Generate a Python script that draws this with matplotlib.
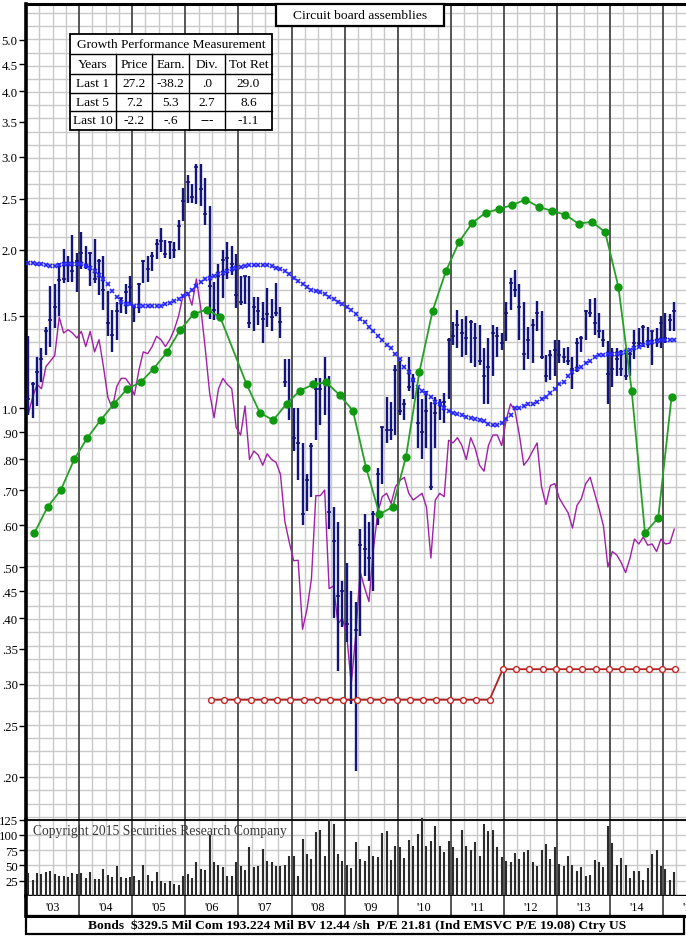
"""
SRC style long-term chart: Circuit board assemblies, monthly price range bars,
moving average, relative strength, earnings, dividends and monthly volume.
"""
import matplotlib
matplotlib.use("Agg")
import matplotlib.pyplot as plt
import numpy as np
from matplotlib.lines import Line2D
from matplotlib.patches import Rectangle
from matplotlib.ticker import NullLocator

plt.rcParams["font.family"] = ["Liberation Serif", "DejaVu Serif"]

W, H = 686, 937

# ---- data (monthly from Jan 2003) -------------------------------------------
price_high = [1.37, 1.12, 1.25, 1.30, 1.43, 1.71, 1.72, 1.89, 2.01, 1.95, 2.13, 1.97,
              2.16, 2.03, 1.98, 2.10, 1.92, 1.95, 1.67, 1.54, 1.59, 1.62, 1.72, 1.78,
              1.57, 1.73, 1.91, 1.95, 1.98, 2.10, 2.20, 2.09, 2.08, 2.07, 2.28, 2.62,
              2.77, 2.66, 2.91, 2.91, 2.73, 2.42, 1.74, 1.88, 2.00, 2.07, 2.03, 1.96,
              1.78, 1.78, 1.78, 1.63, 1.63, 1.59, 1.69, 1.61, 1.73, 1.56, 1.24, 1.24,
              1.00, 1.00, 0.86, 0.75, 0.86, 1.14, 1.14, 1.25, 1.15, 0.65, 0.61, 0.47,
              0.51, 0.45, 0.43, 0.59, 0.63, 0.61, 0.64, 0.77, 0.92, 1.05, 1.03, 1.21,
              1.23, 1.04, 1.25, 1.16, 1.10, 1.04, 1.08, 1.03, 1.05, 1.04, 1.07, 1.36,
              1.46, 1.54, 1.48, 1.50, 1.47, 1.45, 1.44, 1.30, 1.36, 1.44, 1.43, 1.39,
              1.59, 1.77, 1.83, 1.72, 1.59, 1.43, 1.48, 1.60, 1.53, 1.26, 1.29, 1.35,
              1.35, 1.30, 1.31, 1.25, 1.36, 1.37, 1.54, 1.61, 1.62, 1.52, 1.41, 1.34,
              1.30, 1.30, 1.29, 1.30, 1.28, 1.41, 1.42, 1.44, 1.43, 1.40, 1.42, 1.50,
              1.52, 1.51, 1.59]
price_low = [0.97, 0.96, 1.01, 1.12, 1.26, 1.31, 1.42, 1.50, 1.73, 1.74, 1.74, 1.66,
             1.84, 1.84, 1.71, 1.73, 1.64, 1.54, 1.37, 1.28, 1.35, 1.52, 1.51, 1.58,
             1.46, 1.52, 1.73, 1.74, 1.82, 1.92, 1.98, 1.93, 1.92, 1.93, 2.00, 2.27,
             2.45, 2.45, 2.44, 2.42, 2.23, 1.48, 1.47, 1.48, 1.62, 1.76, 1.79, 1.55,
             1.57, 1.58, 1.42, 1.40, 1.44, 1.33, 1.43, 1.40, 1.50, 1.36, 1.10, 0.95,
             0.83, 0.73, 0.60, 0.64, 0.68, 0.87, 0.93, 0.97, 0.59, 0.40, 0.317, 0.384,
             0.36, 0.275, 0.205, 0.37, 0.48, 0.47, 0.45, 0.60, 0.72, 0.86, 0.87, 0.89,
             0.97, 0.95, 1.08, 1.04, 0.84, 0.80, 0.84, 0.70, 0.84, 0.95, 0.94, 1.04,
             1.32, 1.30, 1.25, 1.26, 1.22, 1.20, 1.21, 1.02, 1.02, 1.15, 1.25, 1.29,
             1.34, 1.54, 1.63, 1.35, 1.18, 1.24, 1.22, 1.40, 1.24, 1.12, 1.13, 1.15,
             1.22, 1.22, 1.21, 1.09, 1.17, 1.28, 1.35, 1.49, 1.38, 1.36, 1.31, 1.02,
             1.10, 1.15, 1.15, 1.13, 1.15, 1.24, 1.30, 1.31, 1.30, 1.21, 1.31, 1.30,
             1.33, 1.40, 1.40]
price_close = [1.04, 1.11, 1.17, 1.24, 1.40, 1.47, 1.56, 1.75, 1.76, 1.87, 1.82, 1.90,
               1.97, 1.86, 1.97, 1.76, 1.90, 1.68, 1.45, 1.38, 1.53, 1.62, 1.66, 1.70,
               1.56, 1.72, 1.90, 1.84, 1.95, 2.05, 2.08, 1.96, 2.07, 2.00, 2.22, 2.47,
               2.69, 2.52, 2.87, 2.61, 2.34, 1.71, 1.54, 1.78, 1.91, 1.93, 1.88, 1.64,
               1.59, 1.78, 1.45, 1.56, 1.53, 1.48, 1.51, 1.49, 1.52, 1.46, 1.12, 1.02,
               0.88, 0.86, 0.63, 0.73, 0.85, 1.09, 1.09, 1.12, 0.635, 0.56, 0.44, 0.45,
               0.39, 0.28, 0.38, 0.55, 0.54, 0.52, 0.63, 0.75, 0.92, 0.91, 0.91, 1.18,
               0.99, 1.02, 1.10, 1.13, 0.94, 0.90, 0.99, 0.71, 0.98, 1.02, 1.03, 1.35,
               1.37, 1.44, 1.39, 1.36, 1.46, 1.36, 1.23, 1.15, 1.20, 1.39, 1.37, 1.33,
               1.52, 1.73, 1.68, 1.56, 1.27, 1.35, 1.44, 1.52, 1.25, 1.15, 1.26, 1.29,
               1.26, 1.25, 1.23, 1.19, 1.33, 1.36, 1.53, 1.52, 1.45, 1.40, 1.35, 1.16,
               1.19, 1.24, 1.19, 1.15, 1.27, 1.33, 1.33, 1.43, 1.34, 1.40, 1.35, 1.45,
               1.36, 1.47, 1.53]
moving_avg = [1.89, 1.885, 1.88, 1.875, 1.87, 1.865, 1.865, 1.87, 1.875, 1.88, 1.88, 1.88,
              1.875, 1.86, 1.845, 1.82, 1.79, 1.76, 1.72, 1.67, 1.63, 1.59, 1.575, 1.575,
              1.565, 1.565, 1.565, 1.565, 1.565, 1.565, 1.565, 1.575, 1.585, 1.60, 1.615, 1.635,
              1.65, 1.68, 1.71, 1.74, 1.76, 1.77, 1.78, 1.80, 1.81, 1.82, 1.84, 1.85,
              1.855, 1.86, 1.87, 1.87, 1.87, 1.87, 1.87, 1.86, 1.85, 1.84, 1.82, 1.80,
              1.77, 1.745, 1.72, 1.70, 1.68, 1.67, 1.66, 1.65, 1.63, 1.61, 1.59, 1.575,
              1.56, 1.54, 1.51, 1.48, 1.46, 1.43, 1.40, 1.37, 1.35, 1.32, 1.30, 1.27,
              1.24, 1.20, 1.17, 1.13, 1.10, 1.08, 1.07, 1.05, 1.03, 1.02, 1.00, 0.99,
              0.98, 0.975, 0.97, 0.965, 0.96, 0.955, 0.95, 0.945, 0.935, 0.93, 0.93, 0.94,
              0.955, 0.97, 1.00, 1.00, 1.01, 1.02, 1.02, 1.03, 1.04, 1.05, 1.07, 1.09,
              1.11, 1.12, 1.15, 1.17, 1.19, 1.20, 1.22, 1.23, 1.25, 1.26, 1.26, 1.27,
              1.27, 1.27, 1.275, 1.28, 1.29, 1.30, 1.31, 1.32, 1.33, 1.335, 1.34, 1.35,
              1.35, 1.35, 1.35]
rel_strength = [0.975, 1.05, 1.11, 1.09, 1.20, 1.23, 1.26, 1.49, 1.39, 1.41, 1.39, 1.36,
                1.40, 1.31, 1.40, 1.28, 1.35, 1.20, 1.05, 1.00, 1.10, 1.14, 1.14, 1.11,
                1.06, 1.18, 1.28, 1.27, 1.31, 1.37, 1.35, 1.31, 1.35, 1.41, 1.50, 1.64,
                1.66, 1.57, 1.76, 1.55, 1.30, 1.07, 0.96, 1.09, 1.14, 1.11, 1.09, 0.92,
                0.89, 1.01, 0.80, 0.83, 0.815, 0.78, 0.82, 0.80, 0.79, 0.75, 0.61, 0.557,
                0.514, 0.515, 0.381, 0.416, 0.474, 0.683, 0.683, 0.70, 0.455, 0.46, 0.39, 0.40,
                0.37, 0.30, 0.37, 0.49, 0.457, 0.43, 0.54, 0.635, 0.68, 0.69, 0.66, 0.71,
                0.73, 0.74, 0.69, 0.67, 0.68, 0.69, 0.65, 0.52, 0.67, 0.69, 0.68, 0.87,
                0.86, 0.88, 0.85, 0.80, 0.88, 0.84, 0.78, 0.76, 0.85, 0.89, 0.89, 0.85,
                0.95, 1.02, 0.99, 0.89, 0.78, 0.80, 0.83, 0.86, 0.71, 0.657, 0.714, 0.72,
                0.676, 0.654, 0.634, 0.593, 0.654, 0.674, 0.72, 0.74, 0.69, 0.645, 0.598, 0.50,
                0.535, 0.527, 0.51, 0.488, 0.52, 0.565, 0.553, 0.57, 0.55, 0.553, 0.535, 0.565,
                0.553, 0.555, 0.59]
volume = [36.7, 25.8, 36.7, 35.6, 39.5, 41.1, 35.6, 31.8, 31.8, 30.2, 36.7, 35.6,
          36.7, 28.5, 39.5, 27.4, 27.4, 43.9, 34.5, 30.2, 48.2, 31.3, 29.0, 30.2,
          31.8, 25.8, 50.4, 34.5, 23.6, 38.4, 24.7, 20.3, 24.7, 19.2, 17.5, 32.9,
          35.6, 29.1, 54.8, 43.9, 42.8, 99.8, 54.8, 50.4, 46.6, 32.9, 32.9, 54.8,
          49.3, 42.8, 79.5, 46.6, 49.3, 76.8, 57.6, 54.8, 48.2, 49.3, 50.4, 64.7,
          65.8, 32.9, 93.2, 68.5, 60.3, 105.3, 108.0, 65.8, 126.0, 117.9, 68.5, 57.6,
          50.4, 45.0, 87.7, 60.3, 56.5, 82.2, 64.7, 64.0, 103.0, 105.8, 58.7, 82.2,
          79.5, 61.4, 91.6, 81.1, 101.4, 127.2, 81.1, 89.9, 115.1, 82.2, 72.4, 90.5,
          79.5, 62.0, 108.6, 81.1, 75.7, 88.8, 65.8, 117.9, 106.9, 107.5, 79.5, 63.0,
          56.5, 54.8, 70.2, 60.3, 72.4, 75.7, 54.8, 48.2, 75.1, 85.0, 60.3, 80.6,
          52.1, 48.2, 65.8, 50.4, 41.1, 47.7, 31.8, 34.0, 59.2, 55.9, 47.7, 115.1,
          86.1, 50.4, 61.4, 50.4, 29.1, 41.1, 40.0, 25.8, 45.5, 68.5, 75.1, 49.3,
          43.9, 25.8, 38.4]

# quarterly earnings (quarter 0 = Q1 2003), one quarter not plotted
earnings = [0.58, 0.65, 0.70, 0.80, 0.88, 0.95, 1.02, 1.09, 1.12, 1.19, 1.28, 1.41,
            1.51, 1.54, 1.49, None, 1.11, 0.98, 0.95, 1.02, 1.08, 1.11, 1.12, 1.06,
            0.99, 0.77, 0.63, 0.65, 0.81, 1.17, 1.53, 1.82, 2.07, 2.25, 2.35, 2.39,
            2.43, 2.49, 2.41, 2.37, 2.33, 2.24, 2.26, 2.16, 1.70, 1.08, 0.58, 0.62,
            1.05]
# annual dividend rate, quarterly from Q2 2006
div_first_quarter = 13
dividends = [0.28] * 22 + [0.32] * 14

price_ticks = [5.0, 4.5, 4.0, 3.5, 3.0, 2.5, 2.0, 1.5, 1.0, 0.90, 0.80, 0.70,
               0.60, 0.50, 0.45, 0.40, 0.35, 0.30, 0.25, 0.20]
price_labels = ["5.0", "4.5", "4.0", "3.5", "3.0", "2.5", "2.0", "1.5", "1.0", ".90",
                ".80", ".70", ".60", ".50", ".45", ".40", ".35", ".30", ".25", ".20"]
vol_ticks = [125, 100, 75, 50, 25]
year_labels = ["'03", "'04", "'05", "'06", "'07", "'08", "'09", "'10", "'11", "'12",
               "'13", "'14", "'15"]

table_rows = [["Years", "Price", "Earn.", "Div.", "Tot Ret"],
              ["Last 1", "27.2", "-38.2", ".0", "29.0"],
              ["Last 5", "7.2", "5.3", "2.7", "8.6"],
              ["Last 10", "-2.2", "-.6", "---", "-1.1"]]

footer = "Bonds  $329.5 Mil Com 193.224 Mil BV 12.44 /sh  P/E 21.81 (Ind EMSVC P/E 19.08) Ctry US"

GRID = "#c9c9c9"
YEARLINE = "#555555"


def fx(px):
    return px / W


def fy(py):
    return 1 - py / H


def _vgrid(ax, xmax):
    for q in range(0, int(xmax) + 1, 3):
        if q % 12 == 0:
            ax.axvline(q, color=YEARLINE, lw=1.4, zorder=0.6)
        else:
            ax.axvline(q, color=GRID, lw=1.0, zorder=0.5)


def build():
    fig = plt.figure(figsize=(W / 100, H / 100), dpi=100)
    fig.patch.set_facecolor("white")

    x0, x1 = 26, 686
    y_top, y_split, y_vol0, y_strip = 5, 820.7, 896.7, 917
    px_per_month = 4.425
    xmax = (x1 - x0) / px_per_month

    ax = fig.add_axes([fx(x0), fy(y_split), fx(x1) - fx(x0), fy(y_top) - fy(y_split)])
    axv = fig.add_axes([fx(x0), fy(y_vol0), fx(x1) - fx(x0), fy(y_split) - fy(y_vol0)])
    axy = fig.add_axes([fx(x0), fy(y_strip), fx(x1) - fx(x0), fy(y_vol0) - fy(y_strip)])

    n = len(price_close)
    xm = np.arange(n) + 0.5

    # price panel
    ax.set_yscale("log")
    ax.set_ylim(0.1658, 5.851)
    ax.set_xlim(0, xmax)
    _vgrid(ax, xmax)
    for k in range(-32, 32):
        ax.axhline(10 ** (k / 40), color=GRID, lw=1.0, zorder=0.5)

    ax.vlines(xm, price_low, price_high, color="#14147f", lw=1.7, zorder=3)
    ax.hlines(price_close, xm - 0.45, xm + 0.45, color="#14147f", lw=1.2, zorder=3)
    ax.plot(xm, moving_avg, ls="none", marker="x", ms=3.0, mew=1.2, color="#2424ff", zorder=4)
    ax.plot(xm, rel_strength, color="#a21fa8", lw=1.0, zorder=2)

    xq = np.array([3 * i + 1.88 for i, v in enumerate(earnings) if v is not None])
    eq = [v for v in earnings if v is not None]
    ax.plot(xq, eq, color="#26a026", lw=1.3, marker="o", ms=5, mfc="#0f990f",
            mec="#0f990f", zorder=5)

    xd = np.array([3 * (div_first_quarter + i) + 2.75 for i in range(len(dividends))])
    ax.plot(xd, dividends, color="#b42020", lw=1.3, marker="o", ms=4.2, mfc="white",
            mec="#c42525", mew=1.0, zorder=5)

    ax.yaxis.set_minor_locator(NullLocator())
    ax.set_yticks(price_ticks)
    ax.set_yticklabels(price_labels)
    ax.set_xticks([])
    ax.tick_params(axis="y", direction="out", length=5, width=1.0, labelsize=9.2,
                   pad=1, colors="black")
    for side in ("right", "bottom"):
        ax.spines[side].set_visible(False)
    ax.spines["top"].set_linewidth(2.2)
    ax.spines["left"].set_linewidth(2.6)

    # volume panel
    axv.set_xlim(0, xmax)
    axv.set_ylim(0, 125)
    _vgrid(axv, xmax)
    for v in vol_ticks:
        axv.axhline(v, color=GRID, lw=1.0, zorder=0.5)
    axv.vlines(xm, 0, volume, color="#2b2b2b", lw=1.5, zorder=3, clip_on=False)
    axv.set_yticks(vol_ticks)
    axv.set_yticklabels([str(v) for v in vol_ticks])
    axv.set_xticks([])
    axv.tick_params(axis="y", direction="out", length=5, width=1.0, labelsize=9.2,
                    pad=1)
    axv.spines["right"].set_visible(False)
    axv.spines["top"].set_linewidth(1.3)
    axv.spines["bottom"].set_linewidth(2.4)
    axv.spines["left"].set_linewidth(2.6)
    axv.text(1.5, 108, "Copyright 2015 Securities Research Company", fontsize=9.8,
             color="#3a3a3a", va="center", ha="left", zorder=6)

    # year strip
    axy.set_xlim(0, xmax)
    axy.set_ylim(0, 1)
    for k in range(0, int(xmax) + 1, 12):
        axy.axvline(k, color=YEARLINE, lw=1.4)
    for i, lab in enumerate(year_labels):
        axy.text(12 * i + 6, 0.45, lab, ha="center", va="center", fontsize=8.8,
                 clip_on=False)
    axy.set_xticks([])
    axy.set_yticks([])
    axy.spines["right"].set_visible(False)
    axy.spines["top"].set_visible(False)
    axy.spines["bottom"].set_linewidth(2.2)
    axy.spines["left"].set_linewidth(2.6)

    # footer box
    fig.add_artist(Rectangle((fx(26), fy(935)), fx(684) - fx(26), fy(917) - fy(935),
                             transform=fig.transFigure, fill=False, ec="black", lw=1.6))
    fig.text(fx(357), fy(926), footer, ha="center", va="center", fontsize=9.7,
             fontweight="bold")

    # title box
    fig.add_artist(Rectangle((fx(276), fy(27)), fx(444) - fx(276), fy(5) - fy(27),
                             transform=fig.transFigure, fc="white", ec="black", lw=1.6,
                             zorder=6))
    fig.text(fx(360), fy(16), "Circuit board assemblies", ha="center", va="center",
             fontsize=9.7, zorder=7)

    # growth performance table
    tx0, tx1, ty0, ty1 = 70, 272, 35, 131
    fig.add_artist(Rectangle((fx(tx0), fy(ty1)), fx(tx1) - fx(tx0), fy(ty0) - fy(ty1),
                             transform=fig.transFigure, fc="white", ec="black", lw=1.3,
                             zorder=6))
    row_y = [55, 74.5, 94, 111.5, 131]
    col_x = [70, 116, 152, 189, 225, 272]
    for ry in row_y[:-1]:
        fig.add_artist(Line2D([fx(tx0), fx(tx1)], [fy(ry), fy(ry)], color="black", lw=1.0,
                              transform=fig.transFigure, zorder=7))
    for cx in col_x[1:-1]:
        fig.add_artist(Line2D([fx(cx), fx(cx)], [fy(55), fy(ty1)], color="black", lw=1.0,
                              transform=fig.transFigure, zorder=7))
    fig.text(fx((tx0 + tx1) / 2), fy(45.5), "Growth Performance Measurement",
             ha="center", va="center", fontsize=9.6, zorder=8)
    for r, row in enumerate(table_rows):
        yc = (row_y[r] + row_y[r + 1]) / 2
        for c, cell in enumerate(row):
            xc = (col_x[c] + col_x[c + 1]) / 2
            fig.text(fx(xc), fy(yc), cell, ha="center", va="center", fontsize=9.6,
                     zorder=8)

    fig.savefig("out.png", dpi=100, facecolor="white")
    plt.close(fig)


if __name__ == "__main__":
    build()
